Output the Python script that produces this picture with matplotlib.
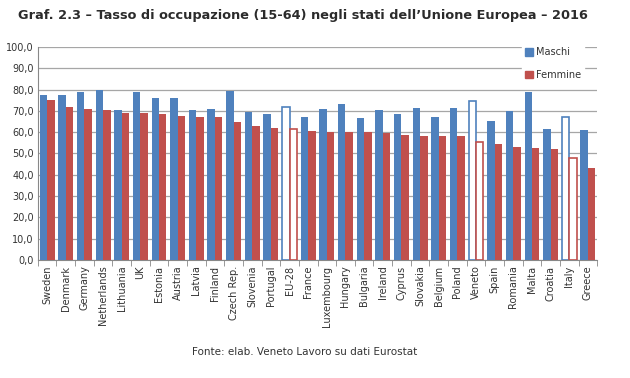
import matplotlib.pyplot as plt
import numpy as np
from matplotlib.ticker import FuncFormatter

countries = ['Sweden', 'Denmark', 'Germany', 'Netherlands', 'Lithuania', 'UK', 'Estonia',
             'Austria', 'Latvia', 'Finland', 'Czech Rep.', 'Slovenia', 'Portugal', 'EU-28',
             'France', 'Luxembourg', 'Hungary', 'Bulgaria', 'Ireland', 'Cyprus', 'Slovakia',
             'Belgium', 'Poland', 'Veneto', 'Spain', 'Romania', 'Malta', 'Croatia', 'Italy', 'Greece']
maschi = [77.5, 77.5, 78.6, 80.0, 70.2, 78.6, 75.9, 75.9, 70.2, 70.8, 79.4, 69.4, 68.4, 72.0,
          67.3, 70.8, 73.0, 66.6, 70.2, 68.4, 71.4, 66.9, 71.1, 74.4, 65.0, 70.0, 78.6, 61.6, 66.9, 61.1]
femmine = [75.2, 72.0, 70.8, 70.2, 68.9, 68.9, 68.4, 67.8, 67.3, 67.3, 64.8, 62.7, 61.9, 61.4,
           60.6, 60.3, 60.2, 60.2, 59.7, 58.8, 58.4, 58.0, 58.0, 55.6, 54.4, 53.1, 52.7, 52.2, 48.1, 43.0]
highlight = ['EU-28', 'Veneto', 'Italy']

blue = '#4F81BD'
red = '#C0504D'

fig = plt.figure(figsize=(6.3, 3.78), dpi=100)
ax = fig.add_axes([0.060, 0.312, 0.888, 0.564])

x = np.arange(len(countries))
w = 0.4
for i, c in enumerate(countries):
    if c in highlight:
        ax.bar(x[i] - w/2, maschi[i], w, facecolor='white', edgecolor=blue, linewidth=1.2, zorder=3)
        ax.bar(x[i] + w/2, femmine[i], w, facecolor='white', edgecolor=red, linewidth=1.2, zorder=3)
    else:
        ax.bar(x[i] - w/2, maschi[i], w, color=blue, zorder=3)
        ax.bar(x[i] + w/2, femmine[i], w, color=red, zorder=3)

ax.set_xlim(-0.5, len(countries) - 0.5)
ax.set_ylim(0, 100)
ax.set_yticks(np.arange(0, 101, 10))
ax.yaxis.set_major_formatter(FuncFormatter(lambda v, p: f'{v:.1f}'.replace('.', ',')))
ax.yaxis.grid(True, color='#A6A6A6', linewidth=0.9, zorder=0)
ax.tick_params(axis='y', length=0, labelsize=7, pad=3, labelcolor='#333333')

ax.set_xticks(x)
ax.set_xticklabels(countries, rotation=90, fontsize=7, color='#333333')
ax.tick_params(axis='x', length=0, pad=4)
ax.set_xticks(np.arange(-0.5, len(countries), 1), minor=True)
ax.tick_params(axis='x', which='minor', length=4, color='#888888', direction='out')

for s in ['top', 'right']:
    ax.spines[s].set_visible(False)
for s in ['left', 'bottom']:
    ax.spines[s].set_color('#888888')

h1 = plt.Rectangle((0, 0), 1, 1, color=blue)
h2 = plt.Rectangle((0, 0), 1, 1, color=red)
leg = ax.legend([h1, h2], ['Maschi', 'Femmine'], loc='upper right', bbox_to_anchor=(0.985, 1.035),
                frameon=True, fontsize=7, handlelength=0.8, handleheight=0.8, labelspacing=1.3,
                handletextpad=0.3, borderpad=0.3)
leg.get_frame().set_edgecolor('white')
leg.get_frame().set_facecolor('white')
leg.get_frame().set_alpha(1)
for t in leg.get_texts():
    t.set_color('#333333')

fig.text(0.029, 0.958, "Graf. 2.3 \u2013 Tasso di occupazione (15-64) negli stati dell\u2019Unione Europea \u2013 2016",
         fontsize=9.3, fontweight='bold', family='DejaVu Sans', color='#2b2b2b', va='center')
fig.text(0.483, 0.068, 'Fonte: elab. Veneto Lavoro su dati Eurostat', fontsize=7.5, ha='center', va='center',
         color='#333333')

fig.savefig('out.png', dpi=100)
